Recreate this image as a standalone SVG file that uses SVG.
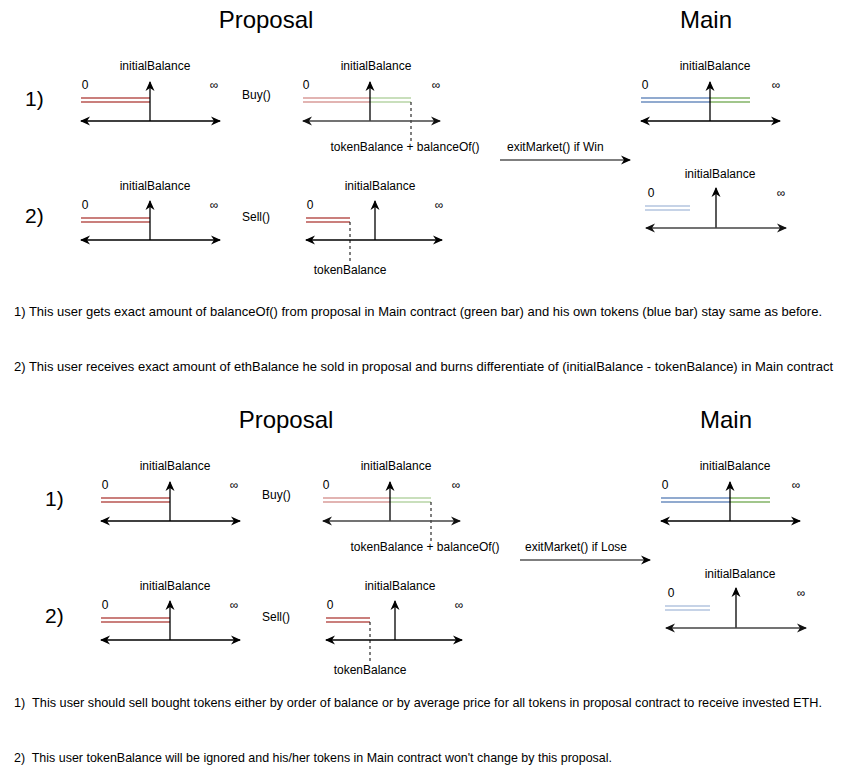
<svg xmlns="http://www.w3.org/2000/svg" width="852" height="771" viewBox="0 0 852 771">
<defs>
<marker id="ah" viewBox="0 0 10 10" refX="9" refY="5" markerWidth="10" markerHeight="10" markerUnits="userSpaceOnUse" orient="auto-start-reverse"><path d="M0,0.5 L10,5 L0,9.5 L3,5 z" fill="#000"/></marker>
<marker id="ahg" viewBox="0 0 10 10" refX="9" refY="5" markerWidth="10" markerHeight="10" markerUnits="userSpaceOnUse" orient="auto-start-reverse"><path d="M0,0.5 L10,5 L0,9.5 L3,5 z" fill="#111"/></marker>
</defs>
<style>
text{font-family:"Liberation Sans",Arial,sans-serif;fill:#000}
.t{font-size:12px}
.c{text-anchor:middle}
.inf{font-size:12px;text-anchor:middle}
.h{font-size:24px;text-anchor:middle}
.n{font-size:21px}
.b{font-size:13px}
.ax{stroke:#000;stroke-width:1.3;fill:none;marker-start:url(#ah);marker-end:url(#ah)}
.axg{stroke:#444;stroke-width:1.7;fill:none;marker-start:url(#ahg);marker-end:url(#ahg)}
.up{stroke:#000;stroke-width:1.3;fill:none;marker-end:url(#ah)}
.ar{stroke:#000;stroke-width:1.2;fill:none;marker-end:url(#ah)}
.red{stroke:#b85450;stroke-width:1.3}
.lred{stroke:#d99b98;stroke-width:1.6}
.lgrn{stroke:#b7d4a6;stroke-width:1.6}
.grn{stroke:#82b366;stroke-width:1.3}
.blu{stroke:#6c8ebf;stroke-width:1.3}
.lblu{stroke:#b3c5df;stroke-width:1.6}
.dash{stroke:#000;stroke-width:1;stroke-dasharray:3 3}
</style>

<!-- ===== TOP SECTION ===== -->
<g id="titles-top">
<text class="h" x="266" y="28">Proposal</text>
<text class="h" x="706" y="28">Main</text>
<text class="n" x="25" y="106">1)</text>
<text class="n" x="25" y="223">2)</text>
<text class="t" x="242" y="99">Buy()</text>
<text class="t" x="242" y="221">Sell()</text>
</g>

<g id="top-p1-before">
<text class="t c" x="155" y="70">initialBalance</text>
<text class="t c" x="85" y="89">0</text>
<text class="inf" x="214" y="89">∞</text>
<line class="red" x1="81" y1="98" x2="150" y2="98"/>
<line class="red" x1="81" y1="102" x2="150" y2="102"/>
<line class="up" x1="150" y1="121" x2="150" y2="82"/>
<line class="ax" x1="81" y1="121" x2="220" y2="121"/>
</g>

<g id="top-p1-after">
<text class="t c" x="376" y="70">initialBalance</text>
<text class="t c" x="306" y="89">0</text>
<text class="inf" x="436" y="89">∞</text>
<line class="lred" x1="303" y1="98" x2="370" y2="98"/>
<line class="lred" x1="303" y1="102" x2="370" y2="102"/>
<line class="lgrn" x1="370" y1="98" x2="411" y2="98"/>
<line class="lgrn" x1="370" y1="102" x2="411" y2="102"/>
<line class="dash" x1="411" y1="102" x2="411" y2="143"/>
<line class="up" x1="370" y1="121" x2="370" y2="82"/>
<line class="axg" x1="303" y1="121" x2="440" y2="121"/>
<text class="t c" x="405" y="151">tokenBalance + balanceOf()</text>
</g>

<g id="top-p2-before">
<text class="t c" x="155" y="190">initialBalance</text>
<text class="t c" x="85" y="209">0</text>
<text class="inf" x="214" y="209">∞</text>
<line class="red" x1="81" y1="218" x2="150" y2="218"/>
<line class="red" x1="81" y1="222" x2="150" y2="222"/>
<line class="up" x1="150" y1="240" x2="150" y2="201"/>
<line class="ax" x1="81" y1="240" x2="220" y2="240"/>
</g>

<g id="top-p2-after">
<text class="t c" x="380" y="190">initialBalance</text>
<text class="t c" x="310" y="209">0</text>
<text class="inf" x="439" y="209">∞</text>
<line class="red" x1="306" y1="218" x2="350" y2="218"/>
<line class="red" x1="306" y1="222" x2="350" y2="222"/>
<line class="dash" x1="350" y1="222" x2="350" y2="262"/>
<line class="up" x1="375" y1="240" x2="375" y2="201"/>
<line class="ax" x1="306" y1="240" x2="442" y2="240"/>
<text class="t c" x="350" y="274">tokenBalance</text>
</g>

<g id="top-main1">
<text class="t c" x="715" y="70">initialBalance</text>
<text class="t c" x="645" y="89">0</text>
<text class="inf" x="776" y="89">∞</text>
<line class="blu" x1="641" y1="98" x2="710" y2="98"/>
<line class="blu" x1="641" y1="102" x2="710" y2="102"/>
<line class="grn" x1="710" y1="98" x2="750" y2="98"/>
<line class="grn" x1="710" y1="102" x2="750" y2="102"/>
<line class="up" x1="710" y1="121" x2="710" y2="82"/>
<line class="ax" x1="641" y1="121" x2="780" y2="121"/>
</g>

<g id="top-main2">
<text class="t c" x="720" y="178">initialBalance</text>
<text class="t c" x="651" y="197">0</text>
<text class="inf" x="781" y="197">∞</text>
<line class="lblu" x1="645" y1="206" x2="690" y2="206"/>
<line class="lblu" x1="645" y1="210" x2="690" y2="210"/>
<line class="up" x1="716" y1="228" x2="716" y2="188"/>
<line class="axg" x1="646" y1="228" x2="786" y2="228"/>
</g>

<g id="top-notes">
<text class="b" x="14" y="316" textLength="808" lengthAdjust="spacingAndGlyphs">1) This user gets exact amount of balanceOf() from proposal in Main contract (green bar) and his own tokens (blue bar) stay same as before.</text>
<text class="b" x="14" y="371" textLength="819" lengthAdjust="spacingAndGlyphs">2) This user receives exact amount of ethBalance he sold in proposal and burns differentiate of (initialBalance - tokenBalance) in Main contract</text>
</g>

<!-- ===== BOTTOM SECTION ===== -->
<g id="titles-bottom">
<text class="h" x="286" y="428">Proposal</text>
<text class="h" x="726" y="428">Main</text>
<text class="n" x="45" y="506">1)</text>
<text class="n" x="45" y="623">2)</text>
<text class="t" x="262" y="499">Buy()</text>
<text class="t" x="262" y="621">Sell()</text>
</g>

<g id="bot-p1-before" transform="translate(20,400)">
<text class="t c" x="155" y="70">initialBalance</text>
<text class="t c" x="85" y="89">0</text>
<text class="inf" x="214" y="89">∞</text>
<line class="red" x1="81" y1="98" x2="150" y2="98"/>
<line class="red" x1="81" y1="102" x2="150" y2="102"/>
<line class="up" x1="150" y1="121" x2="150" y2="82"/>
<line class="ax" x1="81" y1="121" x2="220" y2="121"/>
</g>

<g id="bot-p1-after" transform="translate(20,400)">
<text class="t c" x="376" y="70">initialBalance</text>
<text class="t c" x="306" y="89">0</text>
<text class="inf" x="436" y="89">∞</text>
<line class="lred" x1="303" y1="98" x2="370" y2="98"/>
<line class="lred" x1="303" y1="102" x2="370" y2="102"/>
<line class="lgrn" x1="370" y1="98" x2="411" y2="98"/>
<line class="lgrn" x1="370" y1="102" x2="411" y2="102"/>
<line class="dash" x1="411" y1="102" x2="411" y2="143"/>
<line class="up" x1="370" y1="121" x2="370" y2="82"/>
<line class="axg" x1="303" y1="121" x2="440" y2="121"/>
<text class="t c" x="405" y="151">tokenBalance + balanceOf()</text>
</g>

<g id="bot-p2-before" transform="translate(20,400)">
<text class="t c" x="155" y="190">initialBalance</text>
<text class="t c" x="85" y="209">0</text>
<text class="inf" x="214" y="209">∞</text>
<line class="red" x1="81" y1="218" x2="150" y2="218"/>
<line class="red" x1="81" y1="222" x2="150" y2="222"/>
<line class="up" x1="150" y1="240" x2="150" y2="201"/>
<line class="ax" x1="81" y1="240" x2="220" y2="240"/>
</g>

<g id="bot-p2-after" transform="translate(20,400)">
<text class="t c" x="380" y="190">initialBalance</text>
<text class="t c" x="310" y="209">0</text>
<text class="inf" x="439" y="209">∞</text>
<line class="red" x1="306" y1="218" x2="350" y2="218"/>
<line class="red" x1="306" y1="222" x2="350" y2="222"/>
<line class="dash" x1="350" y1="222" x2="350" y2="262"/>
<line class="up" x1="375" y1="240" x2="375" y2="201"/>
<line class="ax" x1="306" y1="240" x2="442" y2="240"/>
<text class="t c" x="350" y="274">tokenBalance</text>
</g>

<g id="bot-main1" transform="translate(20,400)">
<text class="t c" x="715" y="70">initialBalance</text>
<text class="t c" x="645" y="89">0</text>
<text class="inf" x="776" y="89">∞</text>
<line class="blu" x1="641" y1="98" x2="710" y2="98"/>
<line class="blu" x1="641" y1="102" x2="710" y2="102"/>
<line class="grn" x1="710" y1="98" x2="750" y2="98"/>
<line class="grn" x1="710" y1="102" x2="750" y2="102"/>
<line class="up" x1="710" y1="121" x2="710" y2="82"/>
<line class="ax" x1="641" y1="121" x2="780" y2="121"/>
</g>

<g id="bot-main2" transform="translate(20,400)">
<text class="t c" x="720" y="178">initialBalance</text>
<text class="t c" x="651" y="197">0</text>
<text class="inf" x="781" y="197">∞</text>
<line class="lblu" x1="645" y1="206" x2="690" y2="206"/>
<line class="lblu" x1="645" y1="210" x2="690" y2="210"/>
<line class="up" x1="716" y1="228" x2="716" y2="188"/>
<line class="axg" x1="646" y1="228" x2="786" y2="228"/>
</g>

<g id="bot-notes">
<text class="b" x="14" y="707" xml:space="preserve" textLength="808" lengthAdjust="spacingAndGlyphs">1)  This user should sell bought tokens either by order of balance or by average price for all tokens in proposal contract to receive invested ETH.</text>
<text class="b" x="14" y="762" xml:space="preserve" textLength="598" lengthAdjust="spacingAndGlyphs">2)  This user tokenBalance will be ignored and his/her tokens in Main contract won't change by this proposal.</text>
</g>

<g id="connectors">
<line class="ar" x1="500" y1="160" x2="630" y2="160"/>
<text class="t" x="507" y="151">exitMarket() if Win</text>
<line class="ar" x1="520" y1="560" x2="650" y2="560"/>
<text class="t" x="525" y="551">exitMarket() if Lose</text>
</g>
</svg>
